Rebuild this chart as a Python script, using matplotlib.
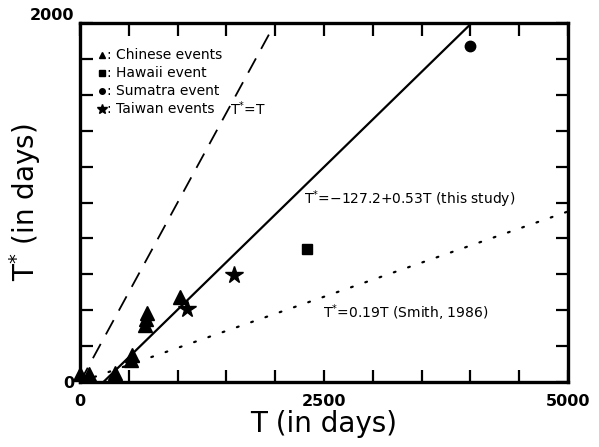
import matplotlib
matplotlib.use('Agg')
import matplotlib.pyplot as plt
import numpy as np

# Data (days)
chinese_T = [0, 90, 358, 520, 533, 670, 680, 690, 1025]
chinese_Ts = [45, 45, 50, 125, 150, 320, 350, 385, 474]
hawaii_T = [2326]
hawaii_Ts = [741]
sumatra_T = [3996]
sumatra_Ts = [1872]
taiwan_T = [1096, 1578]
taiwan_Ts = [407, 596]

fit_a, fit_b = -127.2, 0.53
smith_b = 0.19

plt.rcParams['font.family'] = 'DejaVu Sans'

fig = plt.figure(figsize=(5.99, 4.47), dpi=100)
ax = fig.add_axes([80 / 599, 1 - 382 / 447, 488 / 599, 359 / 447])

x = np.linspace(0, 5000, 200)
ax.plot(x, fit_a + fit_b * x, 'k-', lw=1.6)
ax.plot(x, x, 'k', lw=1.3, dashes=(9, 6))
ax.plot(x, smith_b * x, 'k', lw=1.6, dashes=(0.8, 6), dash_capstyle='round')

ax.plot(chinese_T, chinese_Ts, 'k^', ms=10, clip_on=False)
ax.plot(hawaii_T, hawaii_Ts, 'ks', ms=7)
ax.plot(sumatra_T, sumatra_Ts, 'ko', ms=7.5)
ax.plot(taiwan_T, taiwan_Ts, 'k*', ms=13)

ax.set_xlim(0, 5000)
ax.set_ylim(0, 2000)

xt = np.arange(0, 5001, 500)
ax.set_xticks(xt)
ax.set_xticklabels(['0' if v == 0 else str(v) if v in (2500, 5000) else '' for v in xt])
yt = np.arange(0, 2001, 200)
ax.set_yticks(yt)
ax.set_yticklabels(['0' if v == 0 else '2000' if v == 2000 else '' for v in yt])
ax.tick_params(direction='in', length=9, width=1.6, top=True, right=True,
               labelsize=11.5, pad=4)
ax.tick_params(axis='x', pad=9)
for lab in ax.get_xticklabels() + ax.get_yticklabels():
    lab.set_fontweight('bold')
ax.get_yticklabels()[-1].set_va('bottom')
for s in ax.spines.values():
    s.set_linewidth(2.4)

ax.set_xlabel('T (in days)', fontsize=20, labelpad=0)
ax.set_ylabel(r'T$^{*}$ (in days)', fontsize=20)
ax.yaxis.set_label_coords(-0.076, 0.5)

# legend written by hand as in the original
leg = [('^', 'Chinese events', 5), ('s', 'Hawaii event', 4),
       ('o', 'Sumatra event', 4), ('*', 'Taiwan events', 7)]
for i, (m, txt, s) in enumerate(leg):
    yy = 1 - (55 + 18 * i - 23) / 359
    ax.plot([0.046], [yy], 'k' + m, ms=s, transform=ax.transAxes)
    ax.text(0.056, yy, ': ' + txt, transform=ax.transAxes, fontsize=10,
            va='center', ha='left')

ax.text(1540, 1520, r'T$^{*}$=T', fontsize=10, va='center')
ax.text(2290, 1020, r'T$^{*}$=$-$127.2+0.53T (this study)', fontsize=10, va='center')
ax.text(2490, 385, r'T$^{*}$=0.19T (Smith, 1986)', fontsize=10, va='center')

fig.savefig('out.png', dpi=100)
